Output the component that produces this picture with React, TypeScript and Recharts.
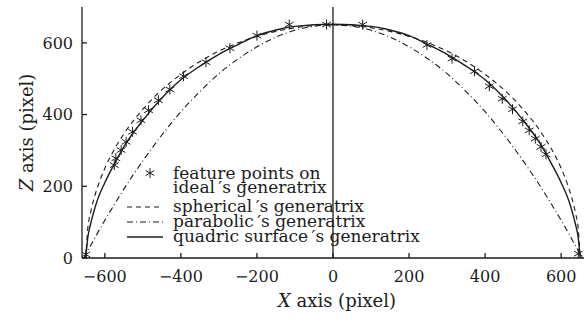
import {
  ComposedChart,
  Label,
  Legend,
  Line,
  ReferenceLine,
  Scatter,
  XAxis,
  YAxis,
} from 'recharts'

const xTicks = [-600, -400, -200, 0, 200, 400, 600]
const zTicks = [0, 200, 400, 600]

// feature points picked on the ideal generatrix
const featureX = [
  -650, -575, -571, -557, -544, -527, -505, -485, -459, -429, -393, -334, -271, -200, -115, -17, 78,
  247, 313, 372, 411, 445, 472, 499, 516, 532, 547, 560, 645,
]
const featureZ = [
  10, 259, 278, 301, 324, 352, 384, 412, 440, 470, 507, 546, 585, 620, 651, 651, 651, 594, 556, 521,
  479, 444, 415, 381, 356, 333, 310, 289, 12,
]

// fitted generatrices (quadric and spherical share the same x samples)
const arcX = [
  -650, -645, -638, -630, -620, -600, -575, -550, -500, -450, -400, -350, -300, -250, -200, -150, -100,
  0, 100, 150, 200, 250, 300, 350, 400, 450, 500, 550, 575, 600, 620, 630, 638, 645, 650,
]
const quadricZ = [
  0, 55, 92, 125, 160, 210, 262, 310, 384, 446, 497, 535, 568, 595, 620, 636, 646, 652, 646, 636, 620,
  595, 568, 535, 497, 446, 384, 310, 262, 210, 160, 125, 92, 55, 0,
]
const sphericalZ = [
  0, 80, 124, 160, 195, 250, 303, 346, 415, 469, 512, 548, 577, 600, 618, 632, 642, 650, 642, 632, 618,
  600, 577, 548, 512, 469, 415, 346, 303, 250, 195, 160, 124, 80, 0,
]
const parabolaX = [
  -655, -650, -645, -638, -620, -600, -575, -550, -500, -450, -400, -350, -300, -250, -200, -100, 0,
  100, 200, 250, 300, 350, 400, 450, 500, 550, 575, 600, 620, 638, 645, 650, 655,
]
const parabolicZ = [
  0, 10, 20, 33, 68, 105, 149, 192, 271, 343, 408, 464, 514, 555, 589, 635, 650, 635, 589, 555, 514,
  464, 408, 343, 271, 192, 149, 105, 68, 33, 20, 10, 0,
]

const toPoints = (xs: number[], zs: number[]) => xs.map((x, i) => ({ x, z: zs[i] }))

const featurePoints = toPoints(featureX, featureZ)
const quadric = toPoints(arcX, quadricZ)
const spherical = toPoints(arcX, sphericalZ)
const parabolic = toPoints(parabolaX, parabolicZ)

const INK = '#1c1c1c'
const FONT = '"DejaVu Serif", serif'
const DASH = '5 4'
const DASH_DOT = '6 3 1 3'

const fmtTick = (v: number) => (v < 0 ? `\u2212${Math.abs(v)}` : `${v}`)

function Asterisk({ cx, cy }: { cx?: number; cy?: number }) {
  if (cx == null || cy == null) return null
  const r = 5
  const dx = r * Math.cos(Math.PI / 6)
  const dy = r * Math.sin(Math.PI / 6)
  return (
    <path
      d={`M${cx},${cy - r}V${cy + r}M${cx - dx},${cy - dy}L${cx + dx},${cy + dy}M${cx - dx},${cy + dy}L${cx + dx},${cy - dy}`}
      stroke={INK}
      strokeWidth={1}
      fill="none"
    />
  )
}

function GeneratrixLegend() {
  return (
    <svg width={330} height={92} style={{ display: 'block', overflow: 'visible' }}>
      <g fontFamily={FONT} fontSize={17} fill={INK}>
        <Asterisk cx={30} cy={13} />
        <text x={53} y={18.5}>feature points on</text>
        <text x={53} y={32.5}>ideal{'\u2009'}′s generatrix</text>
        <line x1={7} x2={43} y1={47} y2={47} stroke={INK} strokeWidth={1.1} strokeDasharray={DASH} />
        <text x={53} y={52}>spherical{'\u2009'}′s generatrix</text>
        <line x1={7} x2={43} y1={62} y2={62} stroke={INK} strokeWidth={1.1} strokeDasharray={DASH_DOT} />
        <text x={53} y={67}>parabolic{'\u2009'}′s generatrix</text>
        <line x1={7} x2={43} y1={77} y2={77} stroke={INK} strokeWidth={1.4} />
        <text x={53} y={82}>quadric surface{'\u2009'}′s generatrix</text>
      </g>
    </svg>
  )
}

type Box = { x: number; y: number; width: number; height: number }

function XLabel({ viewBox }: { viewBox?: Box }) {
  if (!viewBox) return null
  const cx = viewBox.x + viewBox.width / 2 + 4
  return (
    <text x={cx} y={viewBox.y + 49} textAnchor="middle" fontFamily={FONT} fontSize={18} fill={INK}>
      <tspan fontStyle="italic">X</tspan> axis (pixel)
    </text>
  )
}

function ZLabel({ viewBox }: { viewBox?: Box }) {
  if (!viewBox) return null
  const x = viewBox.x + 33
  const y = viewBox.y + viewBox.height / 2
  return (
    <text
      x={x}
      y={y}
      transform={`rotate(-90, ${x}, ${y})`}
      textAnchor="middle"
      fontFamily={FONT}
      fontSize={18}
      fill={INK}
    >
      <tspan fontStyle="italic">Z</tspan> axis (pixel)
    </text>
  )
}

const tickStyle = { fontFamily: FONT, fontSize: 16, fill: INK }
const axisLine = { stroke: INK, strokeWidth: 1.3 }

export default function App() {
  return (
    <div style={{ position: 'absolute', left: 0, top: 0, background: '#fff' }}>
      <ComposedChart width={587} height={320} margin={{ top: 7, right: 3, bottom: 0, left: 0 }}>
        <XAxis
          dataKey="x"
          type="number"
          domain={[-660, 660]}
          allowDataOverflow
          ticks={xTicks}
          tickFormatter={fmtTick}
          tick={tickStyle}
          tickSize={-5}
          tickMargin={18}
          tickLine={axisLine}
          axisLine={axisLine}
          height={62}
        >
          <Label content={XLabel} />
        </XAxis>
        <XAxis
          xAxisId="top"
          orientation="top"
          type="number"
          domain={[-660, 660]}
          allowDataOverflow
          ticks={xTicks}
          tickFormatter={() => ''}
          tickSize={-5}
          tickLine={axisLine}
          axisLine={axisLine}
          height={0}
        />
        <YAxis
          dataKey="z"
          type="number"
          domain={[0, 700]}
          allowDataOverflow
          ticks={zTicks}
          tick={tickStyle}
          tickSize={-5}
          tickMargin={14}
          tickLine={axisLine}
          axisLine={axisLine}
          width={82}
        >
          <Label content={ZLabel} />
        </YAxis>
        <YAxis
          yAxisId="right"
          orientation="right"
          type="number"
          domain={[0, 700]}
          allowDataOverflow
          ticks={zTicks}
          tickFormatter={() => ''}
          tickSize={-5}
          tickLine={axisLine}
          axisLine={axisLine}
          width={0}
        />
        <ReferenceLine x={0} stroke={INK} strokeWidth={1.3} />
        <Line
          data={parabolic}
          dataKey="z"
          type="monotone"
          stroke={INK}
          strokeWidth={1.1}
          strokeDasharray={DASH_DOT}
          dot={false}
          activeDot={false}
          isAnimationActive={false}
        />
        <Line
          data={spherical}
          dataKey="z"
          type="monotone"
          stroke={INK}
          strokeWidth={1.1}
          strokeDasharray={DASH}
          dot={false}
          activeDot={false}
          isAnimationActive={false}
        />
        <Line
          data={quadric}
          dataKey="z"
          type="monotone"
          stroke={INK}
          strokeWidth={1.4}
          dot={false}
          activeDot={false}
          isAnimationActive={false}
        />
        <Scatter data={featurePoints} dataKey="z" shape={<Asterisk />} isAnimationActive={false} />
        <Legend
          content={GeneratrixLegend}
          layout="vertical"
          align="center"
          verticalAlign="middle"
          wrapperStyle={{ left: 120, top: 160, width: 330 }}
        />
      </ComposedChart>
    </div>
  )
}
